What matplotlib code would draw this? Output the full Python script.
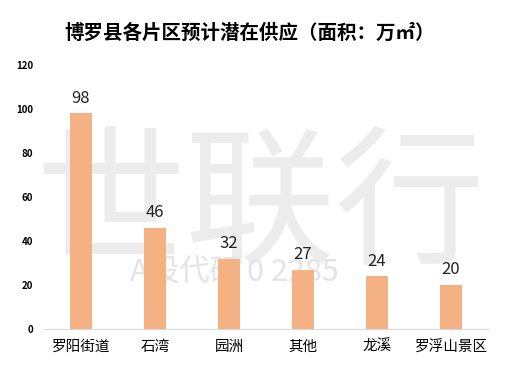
import matplotlib
matplotlib.use("Agg")
import matplotlib.pyplot as plt

categories = ["罗阳街道", "石湾", "园洲", "其他", "龙溪", "罗浮山景区"]
values = [98, 46, 32, 27, 24, 20]
yticks = [0, 20, 40, 60, 80, 100, 120]

plt.rcParams['font.family'] = ['Noto Sans CJK SC', 'DejaVu Sans']

fig = plt.figure(figsize=(5.21, 3.67), dpi=100)
ax = fig.add_axes([44/521, 38/367, 444/521, 264/367])

x = list(range(len(categories)))
ax.bar(x, values, width=0.3, color="#F4B183", zorder=3)
for xi, v in zip(x, values):
    ax.text(xi, v + 3, str(v), ha="center", va="bottom", fontsize=12, color="#222222",
            fontweight="light", zorder=4)

ax.set_xlim(-0.5, len(categories) - 0.5)
ax.set_ylim(0, 120)
ax.set_yticks(yticks)
ax.set_yticklabels([str(t) for t in yticks], fontsize=7, fontweight="bold")
ax.set_xticks(x)
ax.set_xticklabels(categories, fontsize=10.5)
ax.tick_params(axis="both", length=0)
ax.tick_params(axis="y", pad=8)
ax.tick_params(axis="x", pad=8)
for s in ["top", "right", "left"]:
    ax.spines[s].set_visible(False)
ax.spines["bottom"].set_color("#d9d9d9")
ax.spines["bottom"].set_linewidth(0.8)

# watermark (behind bars and labels)
ax.text(0.50, 0.43, "世联行", fontsize=108, color="#ececec", ha="center", va="center",
        transform=fig.transFigure, zorder=1)
ax.text(0.45, 0.255, "A股代码 0 2285", fontsize=22, color="#e4e4e4", ha="center", va="center",
        transform=fig.transFigure, zorder=1)

fig.text(250/521, 1 - 33/367, "博罗县各片区预计潜在供应（面积：万㎡）", fontsize=14, fontweight="bold",
         ha="center", va="center")

fig.savefig("out.png", dpi=100)
